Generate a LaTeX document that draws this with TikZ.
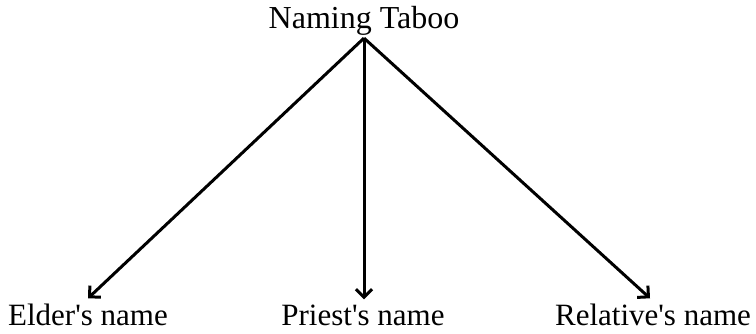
\documentclass[tikz,border=0pt]{standalone}
\usepackage{fontspec}
\setmainfont{Liberation Serif}
\usetikzlibrary{arrows.meta}

\begin{document}
\begin{tikzpicture}[x=1pt,y=-1pt,font=\fontsize{32}{38}\selectfont]
  \tikzset{
    lbl/.style={inner sep=0pt,anchor=base},
    leaf/.style={lbl,font=\fontsize{31}{37}\selectfont},
    link/.style={line width=3pt,-{Straight Barb[length=8pt,width=16pt,line width=3pt]}},
  }
  \useasboundingbox (0,0) rectangle (756,333);
  \node[lbl]  (taboo)  at (364,28)  {Naming Taboo};
  \node[leaf] (elder)  at (88,325)  {Elder\textquotesingle s name};
  \node[leaf] (priest) at (363,325) {Priest\textquotesingle s name};
  \node[leaf] (rel)    at (653,325) {Relative\textquotesingle s name};
  \coordinate (root) at ([yshift=-3pt]taboo.south);
  \draw[link] (root) -- ([yshift=5pt]elder.north);
  \draw[link] (root) -- ([xshift=1pt,yshift=5pt]priest.north);
  \draw[link] (root) -- ([xshift=-3pt,yshift=5pt]rel.north);
\end{tikzpicture}
\end{document}
